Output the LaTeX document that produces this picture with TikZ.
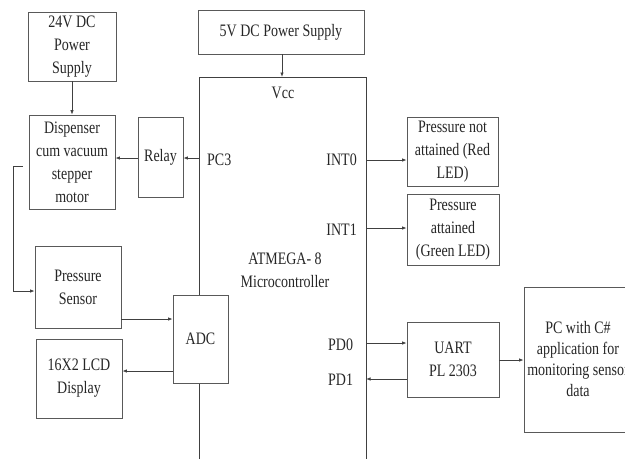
\documentclass[tikz,border=0pt]{standalone}
\usepackage{fontspec}
\setmainfont{Liberation Serif}[FakeStretch=0.8]
\usetikzlibrary{arrows.meta}
\begin{document}
\begin{tikzpicture}[x=1pt,y=-1pt,
  box/.style={draw=black!65, line width=0.8pt, fill=white, align=center, inner sep=0pt, font=\fontsize{17.5}{23}\selectfont, text=black!85},
  lbl/.style={inner sep=0pt, font=\fontsize{17.5}{23}\selectfont, text=black!85},
  conn/.style={draw=black!75, line width=0.8pt, -{Latex[length=4.5pt,width=3.5pt]}},
  wire/.style={draw=black!75, line width=0.8pt}]
\useasboundingbox (0,0) rectangle (625,459);
\clip (0,0) rectangle (625,459);
% microcontroller outline (open at bottom)
\draw[wire] (199,459) -- (199,77) -- (366,77) -- (366,459);
\coordinate (mcuvcc) at (282,77);
\coordinate (mcupc3) at (199,158);
\coordinate (mcuint0) at (366,160);
\coordinate (mcuint1) at (366,228);
\coordinate (mcupd0) at (366,343);
\coordinate (mcupd1) at (366,379);
% boxes
\node[box, minimum width=88pt, minimum height=69pt] (ps24) at (72,46.5) {24V DC\\Power\\Supply};
\node[box, minimum width=86pt, minimum height=94pt] (disp) at (72,162) {Dispenser\\cum vacuum\\stepper\\motor};
\node[box, minimum width=45pt, minimum height=80pt] (relay) at (160.5,157) {Relay};
\node[box, minimum width=166pt, minimum height=44pt] (ps5) at (281,32) {5V DC Power Supply};
\node[box, minimum width=91pt, minimum height=69pt] (red) at (452.5,151.5) {Pressure not\\attained (Red\\LED)};
\node[box, minimum width=92pt, minimum height=71pt] (green) at (453,229.5) {Pressure\\attained\\(Green LED)};
\node[box, minimum width=86pt, minimum height=82pt] (sensor) at (78,287) {Pressure\\Sensor};
\node[box, minimum width=55pt, minimum height=88pt] (adc) at (200.5,339) {ADC};
\node[box, minimum width=86pt, minimum height=79pt] (lcd) at (79,378.5) {16X2 LCD\\Display};
\node[box, minimum width=92pt, minimum height=75pt] (uart) at (453,359.5) {UART\\PL 2303};
\node[box, minimum width=108pt, minimum height=145pt, font=\fontsize{17.5}{21}\selectfont] (pc) at (578,359.5) {PC with C\#\\application for\\monitoring sensor\\data};
% labels
\node[lbl] (vcc) at (283,93) {Vcc};
\node[lbl, anchor=west] (pc3) at (207,160) {PC3};
\node[lbl, anchor=east] (int0) at (357,160) {INT0};
\node[lbl, anchor=east] (int1) at (357,230) {INT1};
\node[lbl, align=center] (atm) at (285,270) {ATMEGA- 8\\Microcontroller};
\node[lbl, anchor=west] (pd0) at (328,345) {PD0};
\node[lbl, anchor=west] (pd1) at (328,380) {PD1};
% connectors
\draw[conn] (ps24.south) -- (disp.north);
\draw[conn] (ps5.south -| mcuvcc) -- (mcuvcc);
\draw[conn] (mcupc3) -- (mcupc3 -| relay.east);
\draw[conn] (relay.west |- 0,158) -- (disp.east |- 0,158);
\draw[conn] (mcuint0) -- (mcuint0 -| red.west);
\draw[conn] (mcuint1) -- (mcuint1 -| green.west);
\coordinate (fbstart) at (23,166);
\coordinate (fbcorner) at (13,291);
\draw[conn] (fbstart) -- (fbstart -| fbcorner) -- (fbcorner) -- (fbcorner -| sensor.west);
\draw[conn] (sensor.east |- 0,319) -- (adc.west |- 0,319);
\draw[conn] (adc.west |- 0,371) -- (lcd.east |- 0,371);
\draw[conn] (mcupd0) -- (mcupd0 -| uart.west);
\draw[conn] (uart.west |- mcupd1) -- (mcupd1);
\draw[conn] (uart.east |- 0,360) -- (pc.west |- 0,360);
\end{tikzpicture}
\end{document}
